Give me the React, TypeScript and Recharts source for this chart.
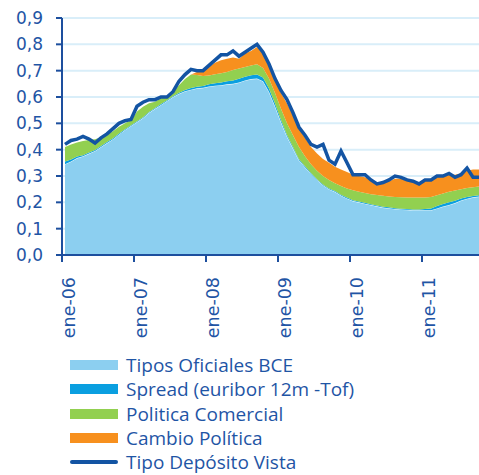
import { ComposedChart, Area, Line, XAxis, YAxis, CartesianGrid } from "recharts";

const MONTHS = ["ene", "feb", "mar", "abr", "may", "jun", "jul", "ago", "sep", "oct", "nov", "dic"];
const YEARS = ["06", "07", "08", "09", "10", "11"];
// ene-06 .. oct-11
const CATEGORIES = YEARS.flatMap((y) => MONTHS.map((m) => `${m}-${y}`)).slice(0, 70);

const TIPOS_BCE = [
  0.345, 0.355, 0.368, 0.375, 0.385, 0.395, 0.41, 0.425, 0.44, 0.458,
  0.475, 0.49, 0.505, 0.52, 0.54, 0.555, 0.57, 0.585, 0.6, 0.612,
  0.622, 0.628, 0.633, 0.635, 0.64, 0.643, 0.645, 0.648, 0.65, 0.655,
  0.663, 0.668, 0.67, 0.66, 0.62, 0.565, 0.505, 0.45, 0.405, 0.36,
  0.333, 0.308, 0.285, 0.265, 0.25, 0.24, 0.226, 0.215, 0.205, 0.2,
  0.195, 0.19, 0.185, 0.18, 0.178, 0.175, 0.173, 0.172, 0.17, 0.17,
  0.17, 0.17, 0.177, 0.184, 0.19, 0.197, 0.207, 0.214, 0.219, 0.222,
];
const SPREAD = [
  0.01, 0.008, 0.006, 0.004, 0.004, 0.004, 0.004, 0.004, 0.003, 0.003,
  0.003, 0.003, 0.003, 0.003, 0.003, 0.003, 0.003, 0.003, 0.003, 0.004,
  0.005, 0.006, 0.006, 0.007, 0.008, 0.009, 0.01, 0.012, 0.013, 0.014,
  0.014, 0.015, 0.015, 0.014, 0.012, 0.01, 0.008, 0.006, 0.005, 0.004,
  0.004, 0.003, 0.003, 0.003, 0.003, 0.003, 0.003, 0.003, 0.003, 0.003,
  0.003, 0.003, 0.003, 0.003, 0.003, 0.003, 0.003, 0.003, 0.003, 0.003,
  0.005, 0.007, 0.009, 0.01, 0.01, 0.009, 0.008, 0.006, 0.005, 0.005,
];
const POLITICA_COMERCIAL = [
  0.055, 0.057, 0.053, 0.054, 0.048, 0.041, 0.033, 0.028, 0.027, 0.026,
  0.022, 0.019, 0.037, 0.04, 0.033, 0.024, 0.022, 0.015, 0.017, 0.029,
  0.041, 0.051, 0.045, 0.038, 0.034, 0.034, 0.035, 0.035, 0.04, 0.039,
  0.037, 0.037, 0.039, 0.036, 0.038, 0.04, 0.042, 0.044, 0.045, 0.046,
  0.038, 0.034, 0.032, 0.032, 0.032, 0.029, 0.033, 0.035, 0.038, 0.037,
  0.037, 0.038, 0.04, 0.042, 0.041, 0.042, 0.043, 0.043, 0.045, 0.045,
  0.043, 0.043, 0.041, 0.04, 0.04, 0.039, 0.035, 0.034, 0.033, 0.033,
];
const CAMBIO_POLITICA = [
  0, 0, 0, 0, 0, 0, 0, 0, 0, 0,
  0, 0, 0, 0, 0, 0, 0, 0, 0, 0,
  0, 0, 0.011, 0.02, 0.033, 0.044, 0.05, 0.05, 0.047, 0.037,
  0.051, 0.055, 0.066, 0.055, 0.05, 0.05, 0.06, 0.075, 0.075, 0.07,
  0.07, 0.065, 0.065, 0.065, 0.065, 0.063, 0.063, 0.062, 0.059, 0.06,
  0.06, 0.054, 0.047, 0.05, 0.058, 0.07, 0.071, 0.067, 0.062, 0.057,
  0.062, 0.065, 0.068, 0.066, 0.065, 0.06, 0.06, 0.066, 0.068, 0.065,
];
const DEPOSITO_VISTA = [
  0.42, 0.435, 0.44, 0.45, 0.44, 0.425, 0.445, 0.46, 0.48, 0.5,
  0.51, 0.515, 0.565, 0.58, 0.59, 0.59, 0.6, 0.6, 0.62, 0.66,
  0.685, 0.705, 0.7, 0.7, 0.72, 0.74, 0.76, 0.76, 0.775, 0.755,
  0.77, 0.785, 0.8, 0.77, 0.725, 0.67, 0.625, 0.59, 0.54, 0.485,
  0.455, 0.42, 0.41, 0.42, 0.36, 0.345, 0.395, 0.35, 0.305, 0.305,
  0.305, 0.285, 0.27, 0.275, 0.285, 0.3, 0.295, 0.285, 0.28, 0.27,
  0.285, 0.285, 0.3, 0.3, 0.31, 0.295, 0.305, 0.33, 0.295, 0.295,
];
const Y_TICKS = [0, 0.1, 0.2, 0.3, 0.4, 0.5, 0.6, 0.7, 0.8, 0.9];

const AXIS = "#1d4f9e";
const TEXT = "#1f55a5";
const GRID = "#d9eef9";

const AREAS = [
  { key: "bce", name: "Tipos Oficiales BCE", color: "#8ccff0" },
  { key: "spread", name: "Spread (euribor 12m -Tof)", color: "#0a9fe0" },
  { key: "comercial", name: "Politica Comercial", color: "#92d050" },
  { key: "cambio", name: "Cambio Política", color: "#f7901e" },
];
const LINE = { key: "vista", name: "Tipo Depósito Vista", color: "#1354a3" };

const data = CATEGORIES.map((mes, i) => ({
  mes,
  bce: TIPOS_BCE[i],
  spread: SPREAD[i],
  comercial: POLITICA_COMERCIAL[i],
  cambio: CAMBIO_POLITICA[i],
  vista: DEPOSITO_VISTA[i],
}));

function MonthTick({ x, y, payload }: any) {
  const tx = x + 10;
  const ty = y + 22;
  return (
    <g>
      <line x1={x - 3} x2={x - 3} y1={y} y2={y + 7} stroke={AXIS} strokeWidth={2} />
      <text
        x={tx}
        y={ty}
        transform={`rotate(-90 ${tx} ${ty})`}
        textAnchor="end"
        fill={TEXT}
        fontSize={17.5}
        fontFamily="DejaVu Sans"
      >
        {payload.value}
      </text>
    </g>
  );
}

export default function App() {
  return (
    <div style={{ position: "absolute", left: 0, top: 0, width: 479, height: 475, background: "#fff" }}>
      <ComposedChart width={479} height={345} data={data} margin={{ top: 18, right: 0, bottom: 0, left: 0 }}>
        <CartesianGrid vertical={false} stroke={GRID} strokeWidth={2} />
        <XAxis
          dataKey="mes"
          interval={11}
          padding={{ left: 3, right: 0 }}
          height={90}
          tickSize={0}
          tickMargin={0}
          tickLine={false}
          axisLine={{ stroke: AXIS, strokeWidth: 2 }}
          tick={<MonthTick />}
        />
        <YAxis
          width={62}
          domain={[0, 0.9]}
          ticks={Y_TICKS}
          interval={0}
          tickSize={6}
          tickMargin={13}
          axisLine={{ stroke: AXIS, strokeWidth: 2 }}
          tickLine={{ stroke: AXIS, strokeWidth: 2 }}
          tick={{ fill: TEXT, fontSize: 17, fontFamily: "DejaVu Sans" }}
          tickFormatter={(v: number) => v.toFixed(1).replace(".", ",")}
        />
        {AREAS.map((a, i) => (
          <Area
            key={a.key}
            dataKey={a.key}
            name={a.name}
            stackId="a"
            type="linear"
            fill={a.color}
            fillOpacity={1}
            stroke={i === 0 ? "#ffffff" : "none"}
            strokeWidth={1}
            isAnimationActive={false}
          />
        ))}
        <Line
          dataKey={LINE.key}
          name={LINE.name}
          type="linear"
          stroke={LINE.color}
          strokeWidth={3.5}
          dot={false}
          isAnimationActive={false}
        />
      </ComposedChart>
      <div
        style={{
          position: "absolute",
          left: 70,
          top: 353,
          fontFamily: "'Open Sans'",
          fontSize: 19,
          lineHeight: "22px",
          color: TEXT,
        }}
      >
        {AREAS.map((a) => (
          <div key={a.key} style={{ display: "flex", alignItems: "center", height: 24.25 }}>
            <span style={{ width: 48, height: 10, background: a.color, marginRight: 8 }} />
            <span style={{ whiteSpace: "nowrap" }}>{a.name}</span>
          </div>
        ))}
        <div style={{ display: "flex", alignItems: "center", height: 24.25 }}>
          <span style={{ width: 48, height: 4, background: LINE.color, borderRadius: 2, marginRight: 8 }} />
          <span style={{ whiteSpace: "nowrap" }}>{LINE.name}</span>
        </div>
      </div>
    </div>
  );
}
